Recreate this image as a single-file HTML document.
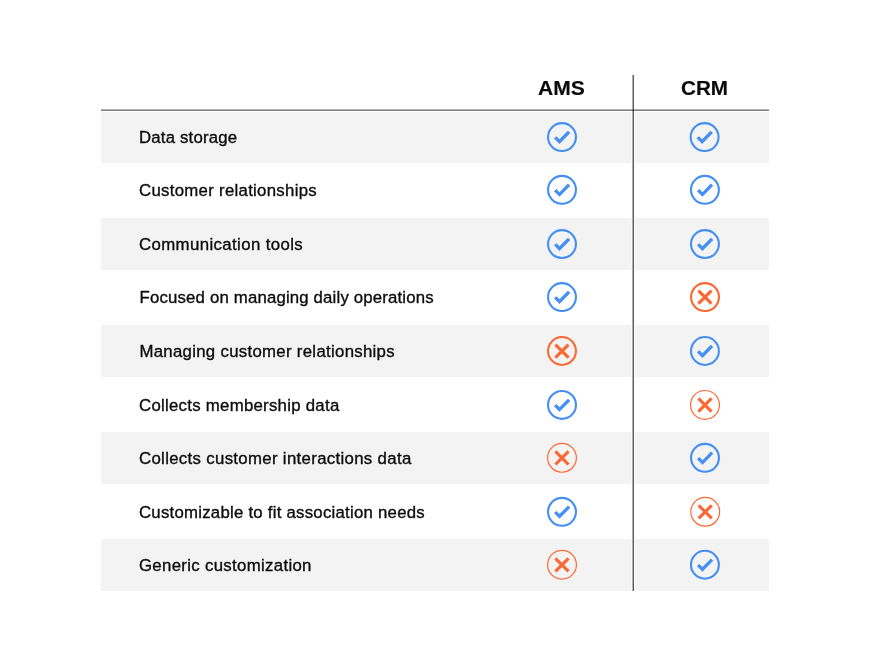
<!DOCTYPE html>
<html lang="en"><head><meta charset="utf-8"><title>AMS vs CRM</title>
<style>
html,body{margin:0;padding:0;background:#fff;}
body{width:876px;height:666px;position:relative;overflow:hidden;font-family:"Liberation Sans",Arial,sans-serif;color:#0c0c0c;}
.bg{position:absolute;background:#f3f3f3;}
.lbl{position:absolute;white-space:nowrap;font-size:16.8px;line-height:20px;height:20px;font-variant-ligatures:none;-webkit-text-stroke:0.35px #0c0c0c;}
.hd{position:absolute;white-space:nowrap;font-weight:bold;font-size:19.5px;line-height:24px;height:24px;color:#0a0a0a;-webkit-text-stroke:0.15px #0a0a0a;transform-origin:0 50%;}
.ic{position:absolute;display:block;overflow:visible;}
.ln{position:absolute;}
</style></head><body>

<div class="bg" style="left:101px;top:112px;width:530px;height:51px"></div>
<div class="bg" style="left:635px;top:112px;width:134px;height:51px"></div>
<div class="bg" style="left:631px;top:112px;width:1px;height:51px;background:#f9f9f9"></div>
<div class="bg" style="left:634px;top:112px;width:1px;height:51px;background:#fcfcfc"></div>
<div class="bg" style="left:101px;top:218px;width:530px;height:52px"></div>
<div class="bg" style="left:635px;top:218px;width:134px;height:52px"></div>
<div class="bg" style="left:631px;top:218px;width:1px;height:52px;background:#f9f9f9"></div>
<div class="bg" style="left:634px;top:218px;width:1px;height:52px;background:#fcfcfc"></div>
<div class="bg" style="left:101px;top:325px;width:530px;height:52px"></div>
<div class="bg" style="left:635px;top:325px;width:134px;height:52px"></div>
<div class="bg" style="left:631px;top:325px;width:1px;height:52px;background:#f9f9f9"></div>
<div class="bg" style="left:634px;top:325px;width:1px;height:52px;background:#fcfcfc"></div>
<div class="bg" style="left:101px;top:432px;width:530px;height:52px"></div>
<div class="bg" style="left:635px;top:432px;width:134px;height:52px"></div>
<div class="bg" style="left:631px;top:432px;width:1px;height:52px;background:#f9f9f9"></div>
<div class="bg" style="left:634px;top:432px;width:1px;height:52px;background:#fcfcfc"></div>
<div class="bg" style="left:101px;top:539px;width:530px;height:52px"></div>
<div class="bg" style="left:635px;top:539px;width:134px;height:52px"></div>
<div class="bg" style="left:631px;top:539px;width:1px;height:52px;background:#f9f9f9"></div>
<div class="bg" style="left:634px;top:539px;width:1px;height:52px;background:#fcfcfc"></div>
<div class="lbl" id="r0" style="left:139px;top:128px;letter-spacing:0.18px">Data storage</div>
<div class="lbl" id="r1" style="left:139px;top:181px;letter-spacing:0.29px">Customer relationships</div>
<div class="lbl" id="r2" style="left:139px;top:235px;letter-spacing:0.39px">Communication tools</div>
<div class="lbl" id="r3" style="left:139.6px;top:288px;letter-spacing:0.165px">Focused on managing daily operations</div>
<div class="lbl" id="r4" style="left:139.4px;top:342px;letter-spacing:0.3px">Managing customer relationships</div>
<div class="lbl" id="r5" style="left:139px;top:396px;letter-spacing:0.27px">Collects membership data</div>
<div class="lbl" id="r6" style="left:139px;top:449px;letter-spacing:0.325px">Collects customer interactions data</div>
<div class="lbl" id="r7" style="left:139px;top:503px;letter-spacing:0.24px">Customizable to fit association needs</div>
<div class="lbl" id="r8" style="left:139px;top:556px;letter-spacing:0.32px">Generic customization</div>
<svg class="ic" style="left:0;top:0" width="876" height="666" viewBox="0 0 876 666">
<g transform="translate(562.0,137.05)"><circle r="13.95" fill="none" stroke="#458ff4" stroke-width="2.1"/><polygon fill="#458ff4" points="-8.05,1.3 -5.5,-0.85 -2.5,2.3 5.9,-6.25 8.3,-4 -2.5,6.9"/></g>
<g transform="translate(704.6,137.05)"><circle r="13.95" fill="none" stroke="#458ff4" stroke-width="2.1"/><polygon fill="#458ff4" points="-8.05,1.3 -5.5,-0.85 -2.5,2.3 5.9,-6.25 8.3,-4 -2.5,6.9"/></g>
<g transform="translate(562.0,189.85)"><circle r="13.95" fill="none" stroke="#458ff4" stroke-width="2.1"/><polygon fill="#458ff4" points="-8.05,1.3 -5.5,-0.85 -2.5,2.3 5.9,-6.25 8.3,-4 -2.5,6.9"/></g>
<g transform="translate(704.92,189.85)"><circle r="13.95" fill="none" stroke="#458ff4" stroke-width="2.1"/><polygon fill="#458ff4" points="-8.05,1.3 -5.5,-0.85 -2.5,2.3 5.9,-6.25 8.3,-4 -2.5,6.9"/></g>
<g transform="translate(562.0,244.05)"><circle r="13.95" fill="none" stroke="#458ff4" stroke-width="2.1"/><polygon fill="#458ff4" points="-8.05,1.3 -5.5,-0.85 -2.5,2.3 5.9,-6.25 8.3,-4 -2.5,6.9"/></g>
<g transform="translate(704.95,244.05)"><circle r="13.95" fill="none" stroke="#458ff4" stroke-width="2.1"/><polygon fill="#458ff4" points="-8.05,1.3 -5.5,-0.85 -2.5,2.3 5.9,-6.25 8.3,-4 -2.5,6.9"/></g>
<g transform="translate(562.0,297.05)"><circle r="13.95" fill="none" stroke="#458ff4" stroke-width="2.1"/><polygon fill="#458ff4" points="-8.05,1.3 -5.5,-0.85 -2.5,2.3 5.9,-6.25 8.3,-4 -2.5,6.9"/></g>
<g transform="translate(705.0,297.05)"><circle r="13.95" fill="none" stroke="#fc6833" stroke-width="2.1"/><path d="M-6.6,-6.45L6.5,6.65M6.5,-6.45L-6.6,6.65" stroke="#fc6833" stroke-width="3.15" fill="none"/></g>
<g transform="translate(562.0,351.0)"><circle r="13.95" fill="none" stroke="#fc6833" stroke-width="2.1"/><path d="M-6.6,-6.45L6.5,6.65M6.5,-6.45L-6.6,6.65" stroke="#fc6833" stroke-width="3.15" fill="none"/></g>
<g transform="translate(704.95,351.0)"><circle r="13.95" fill="none" stroke="#458ff4" stroke-width="2.1"/><polygon fill="#458ff4" points="-8.05,1.3 -5.5,-0.85 -2.5,2.3 5.9,-6.25 8.3,-4 -2.5,6.9"/></g>
<g transform="translate(562.0,404.88)"><circle r="13.95" fill="none" stroke="#458ff4" stroke-width="2.1"/><polygon fill="#458ff4" points="-8.05,1.3 -5.5,-0.85 -2.5,2.3 5.9,-6.25 8.3,-4 -2.5,6.9"/></g>
<g transform="translate(705.0,404.88)"><circle r="14.4" fill="none" stroke="#fc6833" stroke-width="1.2"/><path d="M-6.6,-6.45L6.5,6.65M6.5,-6.45L-6.6,6.65" stroke="#fc6833" stroke-width="3.15" fill="none"/></g>
<g transform="translate(562.0,457.85)"><circle r="14.4" fill="none" stroke="#fc6833" stroke-width="1.2"/><path d="M-6.6,-6.45L6.5,6.65M6.5,-6.45L-6.6,6.65" stroke="#fc6833" stroke-width="3.15" fill="none"/></g>
<g transform="translate(705.0,457.85)"><circle r="13.95" fill="none" stroke="#458ff4" stroke-width="2.1"/><polygon fill="#458ff4" points="-8.05,1.3 -5.5,-0.85 -2.5,2.3 5.9,-6.25 8.3,-4 -2.5,6.9"/></g>
<g transform="translate(562.0,511.8)"><circle r="13.95" fill="none" stroke="#458ff4" stroke-width="2.1"/><polygon fill="#458ff4" points="-8.05,1.3 -5.5,-0.85 -2.5,2.3 5.9,-6.25 8.3,-4 -2.5,6.9"/></g>
<g transform="translate(705.25,511.8)"><circle r="14.4" fill="none" stroke="#fc6833" stroke-width="1.2"/><path d="M-6.6,-6.45L6.5,6.65M6.5,-6.45L-6.6,6.65" stroke="#fc6833" stroke-width="3.15" fill="none"/></g>
<g transform="translate(562.0,564.75)"><circle r="14.4" fill="none" stroke="#fc6833" stroke-width="1.2"/><path d="M-6.6,-6.45L6.5,6.65M6.5,-6.45L-6.6,6.65" stroke="#fc6833" stroke-width="3.15" fill="none"/></g>
<g transform="translate(704.92,564.75)"><circle r="13.95" fill="none" stroke="#458ff4" stroke-width="2.1"/><polygon fill="#458ff4" points="-8.05,1.3 -5.5,-0.85 -2.5,2.3 5.9,-6.25 8.3,-4 -2.5,6.9"/></g>
</svg>
<div class="hd" id="ha" style="left:538px;top:76px;letter-spacing:0px;transform:scaleX(1.08)">AMS</div>
<div class="hd" id="hc" style="left:681px;top:76px;letter-spacing:0px;transform:scaleX(1.06)">CRM</div>
<div class="ln" style="left:101px;top:109px;width:668px;height:1px;background:rgba(0,0,0,0.295)"></div>
<div class="ln" style="left:101px;top:110px;width:668px;height:1px;background:rgba(0,0,0,0.505)"></div>
<div class="ln" style="left:632px;top:75px;width:1px;height:516px;background:rgba(0,0,0,0.31)"></div>
<div class="ln" style="left:633px;top:75px;width:1px;height:516px;background:rgba(0,0,0,0.64)"></div>
</body></html>
